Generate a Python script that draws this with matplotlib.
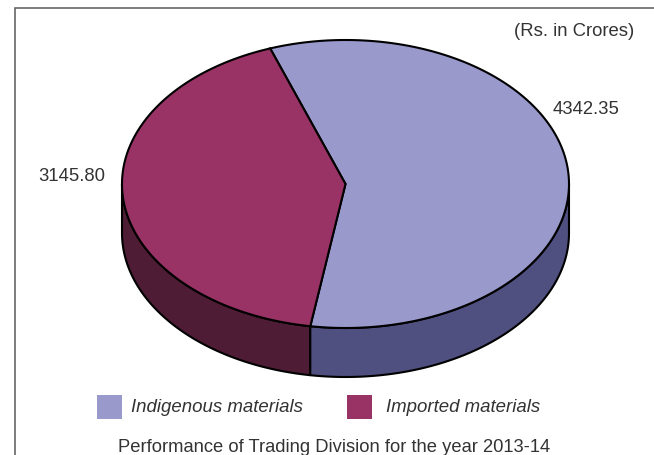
import numpy as np
import matplotlib
matplotlib.use('Agg')
from matplotlib import pyplot as plt
from matplotlib.patches import Polygon, Rectangle

# values in Rs. crores
categories = ['Indigenous materials', 'Imported materials']
values = [4342.35, 3145.80]
value_labels = ['4342.35', '3145.80']
top_colors = ['#9999CC', '#993366']
side_colors = ['#4F4F80', '#4F1C35']

plt.rcParams['font.family'] = ['Liberation Sans', 'DejaVu Sans']
text_color = '#333333'

fig = plt.figure(figsize=(6.54, 4.56), dpi=100)
ax = fig.add_axes([0, 0, 1, 1])
# axes in picture pixels, y going down
ax.set_xlim(0, 654)
ax.set_ylim(455, -1)
ax.axis('off')

cx, cy = 345.5, 184
rx, ry = 223.5, 144
depth = 49
start = 109.7  # where imported slice begins, degrees ccw


def arc(a0, a1, dy=0):
    t = np.radians(np.linspace(a0, a1, 200))
    return np.column_stack([cx + rx * np.cos(t), cy - ry * np.sin(t) + dy])


sweep_imp = 360 * values[1] / sum(values)
end_imp = start + sweep_imp
end_ind = start + 360

# side wall, only the front half of the pie shows
side_imp = np.vstack([arc(180, end_imp), arc(end_imp, 180, depth)])
side_ind = np.vstack([arc(end_imp, 360), arc(360, end_imp, depth)])
ax.add_patch(Polygon(side_imp, fc=side_colors[1], ec='black', lw=1.5, joinstyle='round'))
ax.add_patch(Polygon(side_ind, fc=side_colors[0], ec='black', lw=1.5, joinstyle='round'))

# top faces
top_imp = np.vstack([[cx, cy], arc(start, end_imp)])
top_ind = np.vstack([[cx, cy], arc(end_imp, end_ind)])
ax.add_patch(Polygon(top_ind, fc=top_colors[0], ec='black', lw=1.5, joinstyle='miter'))
ax.add_patch(Polygon(top_imp, fc=top_colors[1], ec='black', lw=1.5, joinstyle='miter'))

# slice values
ax.text(586, 108.5, value_labels[0], fontsize=13.3, color=text_color, ha='center', va='center')
ax.text(72, 175.5, value_labels[1], fontsize=13.3, color=text_color, ha='center', va='center')
ax.text(634, 30, '(Rs. in Crores)', fontsize=13.3, color=text_color, ha='right', va='center')

# legend
ax.add_patch(Rectangle((97, 395), 25, 24, fc=top_colors[0], ec='none'))
ax.text(131, 407, categories[0], fontsize=13.45, style='italic', color=text_color, va='center')
ax.add_patch(Rectangle((347, 395), 25, 24, fc=top_colors[1], ec='none'))
ax.text(386, 407, categories[1], fontsize=13.45, style='italic', color=text_color, va='center')

ax.text(334.5, 447, 'Performance of Trading Division for the year 2013-14', fontsize=13.2,
        color=text_color, ha='center', va='center')

# frame, cut off by the page on right and bottom
ax.plot([15, 15, 654], [456, 8, 8], color='#666666', lw=1.2, solid_joinstyle='miter')

fig.savefig('out.png', dpi=100)
